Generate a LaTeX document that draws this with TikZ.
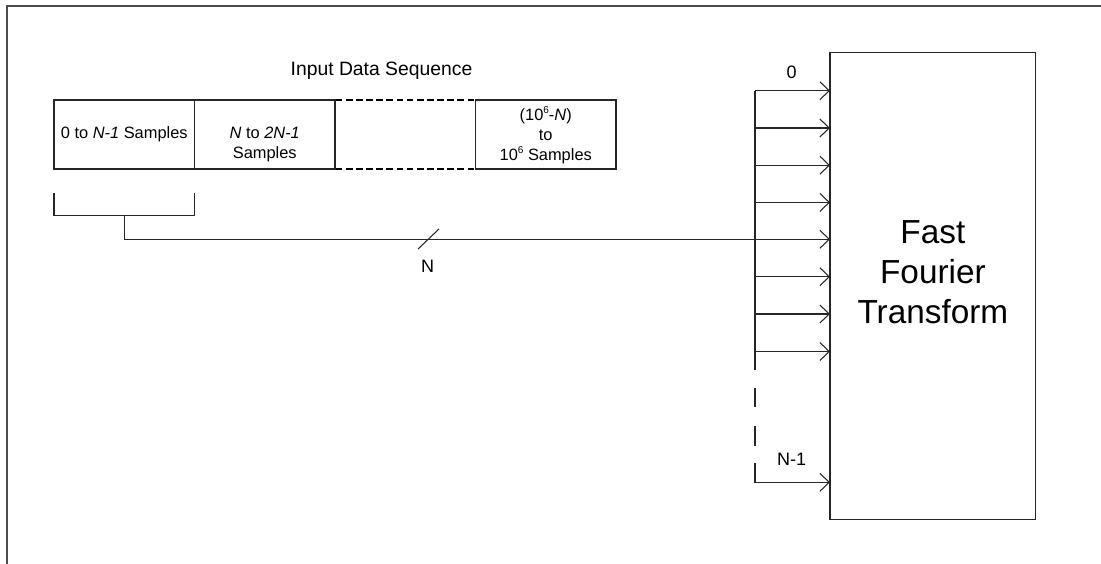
\documentclass[tikz,border=0pt]{standalone}
\usepackage{fontspec}
\setmainfont{Liberation Sans}
\usetikzlibrary{arrows.meta}
\newcommand{\supsix}{\raisebox{0.42em}{\fontsize{7.5}{8}\selectfont 6}}
\begin{document}
\begin{tikzpicture}[x=0.75pt,y=-0.75pt,
  ln/.style={line width=0.8pt, draw=black!85},
  box/.style={ln, minimum width=105.4pt, minimum height=51.75pt, inner sep=0pt, outer sep=0pt},
  arr/.style={ln, -{Straight Barb[length=7pt,width=13.5pt,line width=0.8pt]}},
  small/.style={font=\fontsize{12.3}{14.8}\selectfont, inner sep=0pt},
  lab/.style={font=\fontsize{13.5}{16}\selectfont, inner sep=0pt},
  dashline/.style={draw=black, line width=1.4pt, dash pattern=on 5pt off 2.6pt},
]
\useasboundingbox (0,0) rectangle (1101,564);
% frame
\draw[line width=1.2pt, draw=black!70] (7,564) -- (7,6) -- (1101,6);

% title
\node[anchor=base, font=\fontsize{14.5}{17}\selectfont, inner sep=0pt] (title) at (381.5,75) {Input Data Sequence};

% data boxes
\node[box, draw] (b1) at (124.25,134.5) {};
\node[box, draw] (b2) at (264.75,134.5) {};
\node[box, draw=none] (b3) at (405.25,134.5) {};
\node[box, draw] (b4) at (545.75,134.5) {};
\path[dashline] ([xshift=0.6pt]b3.north west) -- ([xshift=-0.6pt]b3.north east);
\path[dashline] ([xshift=0.6pt]b3.south west) -- ([xshift=-0.6pt]b3.south east);

\node[small, anchor=base] (t1) at (124.25,138.5) {0 to \textit{N-1} Samples};
\node[small, anchor=base] (t2) at (264.75,138.5) {\begin{tabular}[t]{@{}c@{}}\textit{N} to \textit{2N-1}\\Samples\end{tabular}};
\node[small, anchor=base] (t4) at (545.75,120.5) {\begin{tabular}[t]{@{}c@{}}(10\supsix-\textit{N})\\to\\10\supsix{} Samples\end{tabular}};

% FFT block
\node[ln, draw, minimum width=154.3pt, minimum height=350pt, inner sep=0pt, outer sep=0pt] (fft) at (932.85,286) {};
\node[font=\fontsize{25}{30}\selectfont, align=center, inner sep=0pt] (fftlabel) at (932.9,272) {Fast\\Fourier\\Transform};

% bracket and main line
\coordinate (brl) at (54,193.3);
\coordinate (brr) at (194.5,193.3);
\coordinate (brbl) at (54,215.7);
\coordinate (brbr) at (194.5,215.7);
\coordinate (stem) at (124.3,215.7);
\coordinate (stemb) at (124.3,239.3);
\draw[ln] (brl) -- (brbl) -- (brbr) -- (brr);
\coordinate (s4) at (755,239.3);
\draw[arr] (stem) -- (stemb) -- (s4 -| fft.west);
\coordinate (sla) at (418,249);
\coordinate (slb) at (439,229);
\draw[ln] (sla) -- (slb);
\node[lab, anchor=base] (nlab) at (427.7,272.7) {N};

% bus
\foreach \i/\y in {0/90.7,1/128,2/165.2,3/202.4,5/276.7,6/314,7/351.5} {
  \coordinate (s\i) at (755,\y);
  \draw[arr] (s\i) -- (s\i -| fft.west);
}
\coordinate (busend) at (755,370);
\draw[ln] (s0) -- (busend);
\coordinate (d1a) at (755,388);
\coordinate (d1b) at (755,407.3);
\coordinate (d2a) at (755,426);
\coordinate (d2b) at (755,445.7);
\coordinate (d3a) at (755,463.3);
\coordinate (s8) at (755,482.3);
\draw[ln] (d1a) -- (d1b);
\draw[ln] (d2a) -- (d2b);
\draw[arr] (d3a) -- (s8) -- (s8 -| fft.west);

\node[lab, anchor=base] (l0) at (791.7,78.3) {0};
\node[lab, anchor=base] (ln1) at (791.7,465.7) {N-1};
\end{tikzpicture}
\end{document}
